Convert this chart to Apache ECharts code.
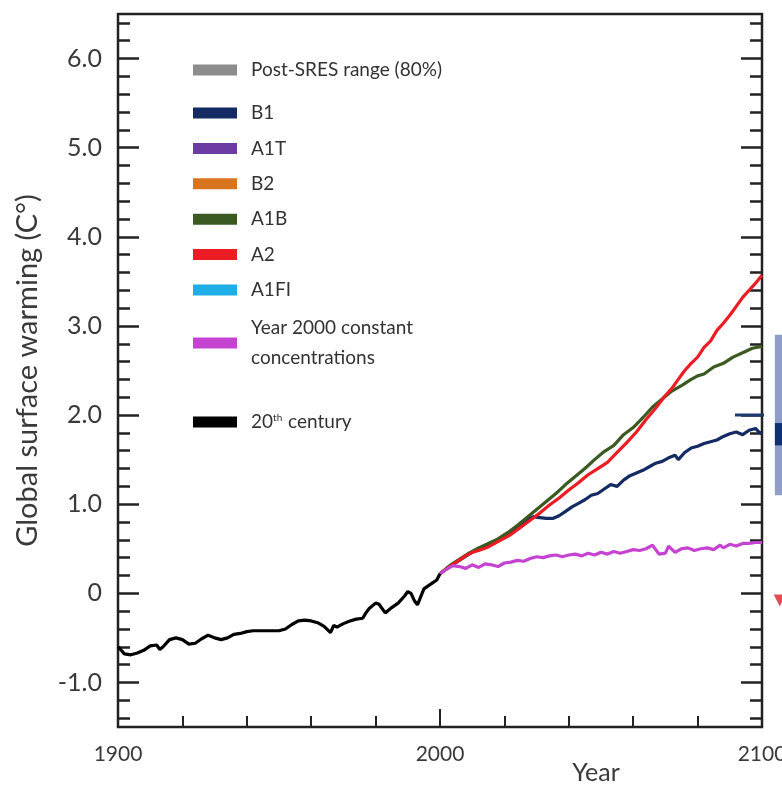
<!DOCTYPE html>
<html>
<head>
<meta charset="utf-8">
<script src="https://cdn.jsdelivr.net/npm/echarts@6/dist/echarts.min.js"></script>
<style>
html,body{margin:0;padding:0;background:#fff;}
#chart{width:782px;height:787px;}
</style>
</head>
<body>
<div id="chart"></div>
<script>
// observed 20th century (year, deg C)
var century20 = [
[1900,-0.60],[1902,-0.68],[1904,-0.69],[1906,-0.67],[1908,-0.64],[1910,-0.59],[1912,-0.58],[1913,-0.63],
[1914,-0.60],[1916,-0.52],[1918,-0.50],[1920,-0.52],[1922,-0.57],[1924,-0.56],[1926,-0.51],[1928,-0.47],
[1930,-0.50],[1932,-0.52],[1934,-0.50],[1936,-0.46],[1938,-0.45],[1940,-0.43],[1942,-0.42],[1946,-0.42],
[1950,-0.42],[1952,-0.40],[1954,-0.35],[1956,-0.31],[1958,-0.30],[1960,-0.31],[1962,-0.33],[1964,-0.37],
[1966,-0.44],[1967,-0.36],[1968,-0.38],[1970,-0.34],[1972,-0.31],[1974,-0.29],[1976,-0.28],[1977,-0.22],
[1978,-0.17],[1980,-0.11],[1981,-0.12],[1983,-0.22],[1985,-0.16],[1987,-0.11],[1989,-0.03],[1990,0.02],
[1991,0.00],[1992,-0.08],[1993,-0.13],[1994,-0.04],[1995,0.05],[1997,0.10],[1999,0.15],[2000,0.22]
];
var b1 = [
[2000,0.22],[2003,0.30],[2006,0.37],[2009,0.44],[2012,0.50],[2015,0.55],[2018,0.60],[2021,0.66],[2024,0.74],
[2027,0.82],[2029,0.86],[2031,0.85],[2033,0.84],[2035,0.84],[2037,0.87],[2039,0.92],[2041,0.97],[2043,1.01],
[2045,1.05],[2047,1.10],[2049,1.12],[2051,1.17],[2053,1.22],[2055,1.20],[2057,1.27],[2059,1.32],[2061,1.35],
[2063,1.38],[2065,1.42],[2067,1.46],[2069,1.48],[2071,1.52],[2073,1.55],[2074,1.50],[2076,1.58],[2078,1.63],
[2080,1.65],[2082,1.68],[2084,1.70],[2086,1.72],[2088,1.76],[2090,1.79],[2092,1.81],[2094,1.78],[2096,1.83],
[2098,1.85],[2099,1.81],[2100,1.79]
];
var a1b = [
[2000,0.22],[2003,0.31],[2006,0.38],[2009,0.45],[2012,0.51],[2015,0.56],[2018,0.61],[2021,0.68],[2024,0.76],
[2027,0.85],[2030,0.94],[2033,1.03],[2036,1.12],[2039,1.22],[2042,1.31],[2045,1.40],[2048,1.50],[2051,1.59],
[2054,1.66],[2057,1.78],[2060,1.86],[2063,1.97],[2066,2.09],[2069,2.18],[2072,2.27],[2075,2.33],[2078,2.40],
[2080,2.44],[2082,2.46],[2085,2.54],[2088,2.58],[2091,2.65],[2094,2.70],[2097,2.75],[2100,2.77]
];
var a2 = [
[2000,0.22],[2003,0.30],[2005,0.35],[2008,0.42],[2010,0.46],[2012,0.48],[2015,0.52],[2018,0.58],[2020,0.62],
[2022,0.66],[2025,0.74],[2028,0.82],[2031,0.90],[2034,0.99],[2037,1.07],[2040,1.16],[2043,1.24],[2046,1.33],
[2049,1.40],[2052,1.47],[2055,1.58],[2058,1.69],[2061,1.81],[2064,1.95],[2067,2.08],[2070,2.22],[2072,2.30],
[2074,2.40],[2076,2.50],[2078,2.58],[2080,2.65],[2082,2.76],[2084,2.83],[2086,2.95],[2088,3.03],[2090,3.12],
[2092,3.22],[2094,3.32],[2096,3.40],[2098,3.48],[2100,3.57]
];
var constConc = [
[2000,0.22],[2002,0.27],[2004,0.31],[2006,0.30],[2008,0.28],[2010,0.32],[2012,0.29],[2014,0.33],[2016,0.32],
[2018,0.30],[2020,0.34],[2022,0.35],[2024,0.37],[2026,0.36],[2028,0.39],[2030,0.41],[2032,0.40],[2034,0.42],
[2036,0.43],[2038,0.41],[2040,0.43],[2042,0.44],[2044,0.42],[2046,0.45],[2048,0.43],[2050,0.46],[2052,0.44],
[2054,0.47],[2056,0.45],[2058,0.47],[2060,0.49],[2062,0.48],[2064,0.50],[2066,0.54],[2068,0.44],[2070,0.45],
[2071,0.53],[2073,0.46],[2075,0.50],[2077,0.51],[2079,0.48],[2081,0.50],[2083,0.51],[2085,0.49],[2087,0.54],
[2088,0.51],[2090,0.55],[2092,0.53],[2094,0.56],[2096,0.56],[2098,0.57],[2100,0.57]
];
// pieces of the neighbouring panel that show past 2100
var b1Range = [[2104, 1.1, 2.9]];
var b1Best = [[2104, 1.66, 1.91]];
var b1Tick = [[2091.6, 2.0], [2102.5, 2.0]];
var a2Marker = [[2105.5, -0.08]];

var yLabels = [-1, 0, 1, 2, 3, 4, 5, 6];
var xLabels = [1900, 2000, 2100];
var yMinor = [];
for (var v = -14; v <= 64; v += 2) yMinor.push(v / 10);

var font = 'Lato';
var axisCol = '#222';
var textCol = '#3a3a3a';

var myChart = echarts.init(document.getElementById('chart'));

function yAx(pos, ticks, len, labels) {
    return {
        type: 'value', position: pos, min: -1.5, max: 6.5,
        axisLine: {show: false, onZero: false},
        splitLine: {show: false},
        axisTick: {show: true, inside: true, length: len, customValues: ticks,
            lineStyle: {color: axisCol, width: 2.5}},
        axisLabel: labels ? {
            show: true, customValues: yLabels, margin: 16,
            fontFamily: font, fontSize: 25, color: textCol,
            formatter: function (val) { return val === 0 ? '0' : val.toFixed(1); }
        } : {show: false}
    };
}

var yAxes = [yAx('left', yLabels, 21, true), yAx('left', yMinor, 12, false),
             yAx('right', yLabels, 21, false), yAx('right', yMinor, 12, false)];
yAxes[0].name = 'Global surface warming (C°)';
yAxes[0].nameLocation = 'middle';
yAxes[0].nameGap = 76;
yAxes[0].nameTextStyle = {fontFamily: font, fontSize: 29, color: textCol};

function lineSeries(name, data, color) {
    return {
        name: name, type: 'line', data: data, showSymbol: false, symbol: 'none',
        xAxisIndex: 0, yAxisIndex: 0,
        lineStyle: {color: color, width: 3.2}, itemStyle: {color: color},
        animation: false
    };
}

var legendText = {fontFamily: font, fontSize: 19, color: '#333', lineHeight: 22, padding: [0, 0, 0, 9]};

option = {
    backgroundColor: '#fff',
    animation: false,
    grid: {left: 118, right: 20, top: 14, bottom: 60, show: true, borderColor: axisCol, borderWidth: 2.5,
        backgroundColor: 'transparent', outerBoundsMode: 'none'},
    legend: [
        {data: ['Post-SRES range (80%)'], left: 193, top: 59, padding: 0, icon: 'rect',
            itemWidth: 44, itemHeight: 11, textStyle: legendText},
        {data: ['B1', 'A1T', 'B2', 'A1B', 'A2', 'A1FI'], orient: 'vertical', left: 193, top: 102, padding: 0,
            itemGap: 13.4, icon: 'rect', itemWidth: 44, itemHeight: 11, textStyle: legendText},
        {data: ['Year 2000 constant concentrations'], left: 193, top: 298, padding: 0, icon: 'rect',
            itemWidth: 44, itemHeight: 11,
            formatter: function () { return 'Year 2000 constant\nconcentrations'; },
            textStyle: {fontFamily: font, fontSize: 19, color: '#333', lineHeight: 30, padding: [30, 0, 0, 9]}},
        {data: ['20th century'], left: 193, top: 411, padding: 0, icon: 'rect',
            itemWidth: 44, itemHeight: 11,
            formatter: function () { return '20{sup|th} century'; },
            textStyle: {fontFamily: font, fontSize: 19, color: '#333', lineHeight: 22, padding: [0, 0, 0, 9],
                rich: {sup: {fontFamily: font, fontSize: 10, color: '#333', padding: [0, 1, 9, 0]}}}}
    ],
    xAxis: [
        {type: 'value', position: 'bottom', min: 1900, max: 2100, interval: 20,
            axisLine: {show: false, onZero: false}, splitLine: {show: false},
            axisTick: {show: true, inside: true, length: 11, lineStyle: {color: axisCol, width: 2}},
            axisLabel: {show: true, customValues: xLabels, margin: 17, fontFamily: font, fontSize: 21, color: textCol,
                formatter: function (val) { return String(val); }},
            name: 'Year', nameLocation: 'middle', nameGap: 33, nameMoveOverlap: false,
            nameTextStyle: {fontFamily: font, fontSize: 25, color: textCol, padding: [0, 0, 0, 312]}},
        {type: 'value', position: 'bottom', min: 1900, max: 2100,
            axisLine: {show: false, onZero: false}, splitLine: {show: false},
            axisTick: {show: true, inside: true, length: 18, customValues: [2000], lineStyle: {color: axisCol, width: 2}},
            axisLabel: {show: false}}
    ],
    yAxis: yAxes,
    series: [
        lineSeries('Post-SRES range (80%)', [], '#8c8c8c'),
        lineSeries('B1', b1, '#142a63'),
        lineSeries('A1T', [], '#6b3aa3'),
        lineSeries('B2', [], '#d8741e'),
        lineSeries('A1B', a1b, '#3b5a22'),
        lineSeries('A2', a2, '#ec1c24'),
        lineSeries('A1FI', [], '#20aee6'),
        lineSeries('Year 2000 constant concentrations', constConc, '#c443d0'),
        lineSeries('20th century', century20, '#000000'),
        {
            type: 'custom', clip: false, silent: true, data: b1Range, z: 1,
            renderItem: function (params, api) {
                var p1 = api.coord([api.value(0), api.value(2)]);
                var p2 = api.coord([api.value(0), api.value(1)]);
                return {type: 'rect', shape: {x: p1[0], y: p1[1], width: 30, height: p2[1] - p1[1]},
                    style: {fill: '#8d9fc7'}};
            }
        },
        {
            type: 'custom', clip: false, silent: true, data: b1Best, z: 2,
            renderItem: function (params, api) {
                var p1 = api.coord([api.value(0), api.value(2)]);
                var p2 = api.coord([api.value(0), api.value(1)]);
                return {type: 'rect', shape: {x: p1[0], y: p1[1], width: 30, height: p2[1] - p1[1]},
                    style: {fill: '#0e2f72'}};
            }
        },
        {type: 'line', data: b1Tick, clip: false, showSymbol: false, symbol: 'none', silent: true,
            lineStyle: {color: '#1f3a6e', width: 3}},
        {type: 'scatter', data: a2Marker, clip: false, silent: true, symbol: 'triangle', symbolRotate: 180,
            symbolSize: [12, 12], itemStyle: {color: '#d8202a'}}
    ]
};

myChart.setOption(option);
</script>
</body>
</html>
